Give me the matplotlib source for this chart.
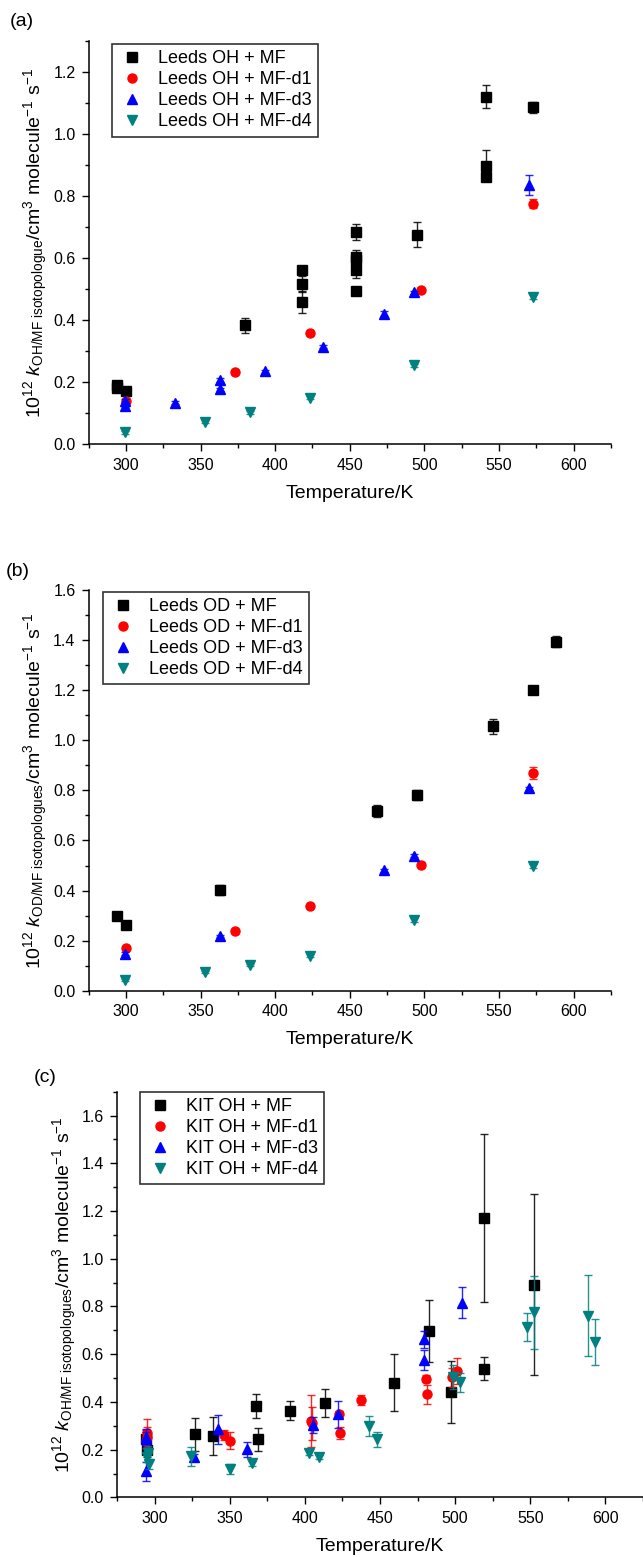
import matplotlib
matplotlib.use("Agg")
import matplotlib.pyplot as plt
from matplotlib.ticker import MultipleLocator

plt.rcParams['font.family'] = ['Liberation Sans', 'DejaVu Sans']
plt.rcParams['mathtext.fontset'] = 'custom'
plt.rcParams['mathtext.rm'] = 'Liberation Sans'
plt.rcParams['mathtext.it'] = 'Liberation Sans:italic'
plt.rcParams['mathtext.bf'] = 'Liberation Sans:bold'

# ---- panel (a): Leeds OH ----
a_mf_T = [294, 294, 300, 380, 418, 418, 418, 454, 454, 454, 454, 454, 495, 541, 541, 541, 573]
a_mf_k = [0.19, 0.18, 0.173, 0.383, 0.563, 0.516, 0.459, 0.684, 0.605, 0.595, 0.562, 0.495, 0.675, 1.119, 0.897, 0.860, 1.086]
a_mf_e = [0.01, 0.01, 0.008, 0.025, 0.012, 0.025, 0.035, 0.025, 0.02, 0.02, 0.025, 0.012, 0.04, 0.037, 0.05, 0.012, 0.018]
a_d1_T = [300, 373, 423, 498, 573]
a_d1_k = [0.14, 0.232, 0.358, 0.497, 0.775]
a_d1_e = [0.006, 0.005, 0.005, 0.005, 0.015]
a_d3_T = [299, 299, 333, 363, 363, 393, 432, 473, 493, 570]
a_d3_k = [0.14, 0.125, 0.134, 0.207, 0.178, 0.236, 0.315, 0.421, 0.49, 0.836]
a_d3_e = [0.005, 0.005, 0.005, 0.006, 0.005, 0.005, 0.005, 0.008, 0.005, 0.032]
a_d4_T = [299, 353, 383, 423, 493, 573]
a_d4_k = [0.039, 0.073, 0.103, 0.15, 0.255, 0.475]
a_d4_e = [0.004, 0.004, 0.004, 0.005, 0.005, 0.008]

# ---- panel (b): Leeds OD ----
b_mf_T = [294, 300, 363, 468, 495, 546, 573, 588]
b_mf_k = [0.300, 0.264, 0.403, 0.717, 0.783, 1.057, 1.202, 1.394]
b_mf_e = [0.008, 0.008, 0.02, 0.025, 0.02, 0.03, 0.012, 0.022]
b_d1_T = [300, 373, 423, 498, 573]
b_d1_k = [0.169, 0.238, 0.337, 0.503, 0.869]
b_d1_e = [0.006, 0.006, 0.006, 0.01, 0.025]
b_d3_T = [299, 363, 473, 493, 570]
b_d3_k = [0.148, 0.218, 0.481, 0.540, 0.808]
b_d3_e = [0.005, 0.005, 0.006, 0.006, 0.006]
b_d4_T = [299, 353, 383, 423, 493, 573]
b_d4_k = [0.043, 0.073, 0.101, 0.140, 0.282, 0.498]
b_d4_e = [0.004, 0.004, 0.004, 0.006, 0.008, 0.008]

# ---- panel (c): KIT OH ----
c_mf_T = [294.5, 295, 327, 339, 367.7, 368.8, 390, 413.5, 459.6, 482.8, 497.4, 519.3, 519.3, 552.3]
c_mf_k = [0.243, 0.200, 0.264, 0.257, 0.382, 0.243, 0.363, 0.395, 0.480, 0.698, 0.442, 1.171, 0.539, 0.891]
c_mf_e = [0.04, 0.03, 0.07, 0.078, 0.05, 0.047, 0.04, 0.06, 0.12, 0.13, 0.13, 0.354, 0.048, 0.38]
c_d1_T = [295, 295, 294.5, 346, 350, 404.2, 405, 422.8, 423.5, 437.6, 480.4, 481.5, 498, 501.5]
c_d1_k = [0.270, 0.255, 0.235, 0.261, 0.237, 0.321, 0.31, 0.349, 0.268, 0.409, 0.498, 0.433, 0.503, 0.530]
c_d1_e = [0.06, 0.04, 0.03, 0.02, 0.035, 0.11, 0.07, 0.015, 0.025, 0.02, 0.015, 0.04, 0.04, 0.055]
c_d3_T = [294.5, 294.5, 294.5, 326, 342, 361.3, 405.3, 422, 479.5, 479.5, 504.3]
c_d3_k = [0.255, 0.245, 0.110, 0.168, 0.285, 0.201, 0.303, 0.349, 0.663, 0.575, 0.815]
c_d3_e = [0.03, 0.03, 0.04, 0.015, 0.06, 0.03, 0.035, 0.057, 0.035, 0.042, 0.065]
c_d4_T = [295.5, 296.5, 295, 324.5, 350, 365, 402.9, 409.1, 442.7, 447.8, 498.8, 503.2, 548.1, 552.3, 588.2, 593]
c_d4_k = [0.185, 0.140, 0.170, 0.173, 0.119, 0.142, 0.187, 0.168, 0.299, 0.243, 0.503, 0.482, 0.715, 0.775, 0.761, 0.652]
c_d4_e = [0.03, 0.02, 0.02, 0.04, 0.02, 0.01, 0.01, 0.008, 0.042, 0.03, 0.05, 0.04, 0.058, 0.152, 0.17, 0.097]

COLORS = ['#000000', '#ff0000', '#0000ff', '#008080']
MARKERS = ['s', 'o', '^', 'v']
SUFFIX = ['MF', 'MF-d1', 'MF-d3', 'MF-d4']


def draw_panel(ax, series, prefix, ytop, ylabel, ylab_x, legend_anchor):
    for (T, k, e), c, m, s in zip(series, COLORS, MARKERS, SUFFIX):
        ax.errorbar(T, k, yerr=e, fmt='none', ecolor=c, elinewidth=1,
                    capsize=2.8, capthick=1, alpha=0.85)
        ax.plot(T, k, ls='none', marker=m, color=c, mec=c, markersize=6.5,
                label=f"{prefix} + {s}")
    ax.set_xlim(275, 625)
    ax.set_ylim(0, ytop)
    ax.xaxis.set_major_locator(MultipleLocator(50))
    ax.xaxis.set_minor_locator(MultipleLocator(25))
    ax.yaxis.set_major_locator(MultipleLocator(0.2))
    ax.yaxis.set_minor_locator(MultipleLocator(0.1))
    ax.spines['top'].set_visible(False)
    ax.spines['right'].set_visible(False)
    ax.spines['left'].set_linewidth(1.1)
    ax.spines['bottom'].set_linewidth(1.1)
    ax.tick_params(which='major', direction='out', length=5, width=1,
                   labelsize=11.5, pad=4.5)
    ax.tick_params(which='minor', direction='out', length=3, width=1)
    ax.yaxis.set_major_formatter(lambda v, p: f"{v:.1f}")
    ax.set_xlabel("Temperature/K", fontsize=14, labelpad=9)
    ax.set_ylabel(ylabel, fontsize=14)
    ax.yaxis.set_label_coords(ylab_x, 0.5)
    leg = ax.legend(loc='upper left', bbox_to_anchor=legend_anchor, fontsize=13,
                    frameon=True, fancybox=False, edgecolor='black',
                    labelspacing=0.22, handletextpad=0.7, borderpad=0.35,
                    handlelength=1.5, borderaxespad=0)
    leg.get_frame().set_linewidth(1.2)


fig = plt.figure(figsize=(6.43, 15.57), dpi=100)
ax_a = fig.add_axes([0.138, 0.7146, 0.812, 0.2592])
ax_b = fig.add_axes([0.138, 0.3637, 0.812, 0.2573])
ax_c = fig.add_axes([0.182, 0.0383, 0.818, 0.2605])

draw_panel(ax_a, [(a_mf_T, a_mf_k, a_mf_e), (a_d1_T, a_d1_k, a_d1_e),
                  (a_d3_T, a_d3_k, a_d3_e), (a_d4_T, a_d4_k, a_d4_e)],
           "Leeds OH", 1.3,
           r"10$^{12}$ $k_{\mathrm{OH/MF\ isotopologue}}$/cm$^3$ molecule$^{-1}$ s$^{-1}$",
           -0.074, (0.045, 0.992))
draw_panel(ax_b, [(b_mf_T, b_mf_k, b_mf_e), (b_d1_T, b_d1_k, b_d1_e),
                  (b_d3_T, b_d3_k, b_d3_e), (b_d4_T, b_d4_k, b_d4_e)],
           "Leeds OD", 1.6,
           r"10$^{12}$ $k_{\mathrm{OD/MF\ isotopologues}}$/cm$^3$ molecule$^{-1}$ s$^{-1}$",
           -0.074, (0.028, 0.996))
draw_panel(ax_c, [(c_mf_T, c_mf_k, c_mf_e), (c_d1_T, c_d1_k, c_d1_e),
                  (c_d3_T, c_d3_k, c_d3_e), (c_d4_T, c_d4_k, c_d4_e)],
           "KIT OH", 1.7,
           r"10$^{12}$ $k_{\mathrm{OH/MF\ isotopologues}}$/cm$^3$ molecule$^{-1}$ s$^{-1}$",
           -0.073, (0.043, 1.0))

fig.text(10 / 643, 1 - 22 / 1557, "(a)", fontsize=14, va='center')
fig.text(6 / 643, 1 - 572 / 1557, "(b)", fontsize=14, va='center')
fig.text(34 / 643, 1 - 1078 / 1557, "(c)", fontsize=14, va='center')

fig.savefig("out.png", dpi=100)
